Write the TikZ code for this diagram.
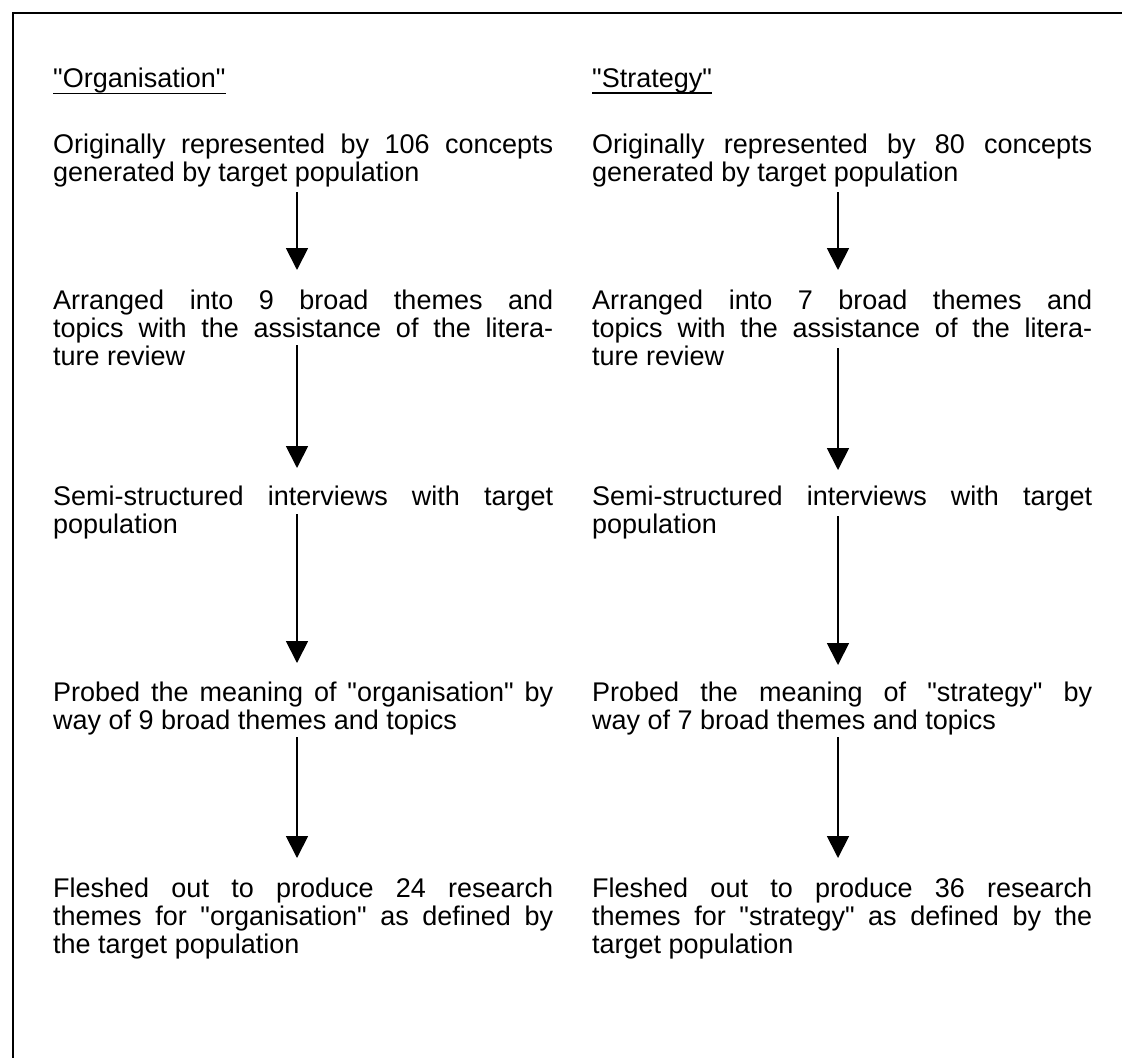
\documentclass[tikz,border=0pt]{standalone}
\usepackage{fontspec}
\newfontfamily\arialf{Liberation Sans}
\usetikzlibrary{arrows.meta}
\begin{document}
\begin{tikzpicture}[x=1pt,y=1pt,
  txt/.style={anchor=north west,inner sep=0pt,text width=500pt,align=justify,
    font=\arialf\fontsize{27}{28}\selectfont},
  head/.style={anchor=north west,inner sep=0pt,font=\arialf\fontsize{27}{28}\selectfont},
  flow/.style={line width=1.8pt,-{Triangle[width=22pt,length=22pt]}},
  frame/.style={line width=2pt}]
\useasboundingbox (0,0) rectangle (1122,-1058);
\fill[white] (0,0) rectangle (1122,-1058);
% frame
\coordinate (fTL) at (13,-13);
\coordinate (fTR) at (1122,-13);
\coordinate (fBL) at (13,-1058);
\draw[frame] (fTR) -- (fTL) -- (fBL);
% headings
\node[head] (h1) at (53,-68) {"Organisation"};
\node[head] (h2) at (592,-68) {"Strategy"};
\draw[line width=1.6pt] (h1.south west) -- (h1.south east);
\draw[line width=1.6pt] (h2.south west) -- (h2.south east);
% left column
\node[txt] (l1) at (53,-134) {Originally represented by 106 concepts\linebreak generated by target population};
\node[txt] (l2) at (53,-290) {Arranged into 9 broad themes and\linebreak topics with the assistance of the litera-\linebreak ture review};
\node[txt] (l3) at (53,-486) {Semi-structured interviews with target\linebreak population};
\node[txt] (l4) at (53,-682) {Probed the meaning of "organisation" by\linebreak way of 9 broad themes and topics};
\node[txt] (l5) at (53,-878) {Fleshed out to produce 24 research\linebreak themes for "organisation" as defined by\linebreak the target population};
% right column
\node[txt] (r1) at (592,-134) {Originally represented by 80 concepts\linebreak generated by target population};
\node[txt] (r2) at (592,-290) {Arranged into 7 broad themes and\linebreak topics with the assistance of the litera-\linebreak ture review};
\node[txt] (r3) at (592,-486) {Semi-structured interviews with target\linebreak population};
\node[txt] (r4) at (592,-682) {Probed the meaning of "strategy" by\linebreak way of 7 broad themes and topics};
\node[txt] (r5) at (592,-878) {Fleshed out to produce 36 research\linebreak themes for "strategy" as defined by the\linebreak target population};
% arrow end points
\coordinate (la1s) at (297,-192); \coordinate (la1e) at (297,-270);
\coordinate (la2s) at (297,-345); \coordinate (la2e) at (297,-468);
\coordinate (la3s) at (297,-514); \coordinate (la3e) at (297,-663);
\coordinate (la4s) at (297,-737); \coordinate (la4e) at (297,-858);
\coordinate (ra1s) at (838,-192); \coordinate (ra1e) at (838,-270);
\coordinate (ra2s) at (838,-348); \coordinate (ra2e) at (838,-470);
\coordinate (ra3s) at (838,-516); \coordinate (ra3e) at (838,-665);
\coordinate (ra4s) at (838,-737); \coordinate (ra4e) at (838,-858);
\draw[flow] (la1s) -- (la1e);
\draw[flow] (la2s) -- (la2e);
\draw[flow] (la3s) -- (la3e);
\draw[flow] (la4s) -- (la4e);
\draw[flow] (ra1s) -- (ra1e);
\draw[flow] (ra2s) -- (ra2e);
\draw[flow] (ra3s) -- (ra3e);
\draw[flow] (ra4s) -- (ra4e);
\end{tikzpicture}
\end{document}
